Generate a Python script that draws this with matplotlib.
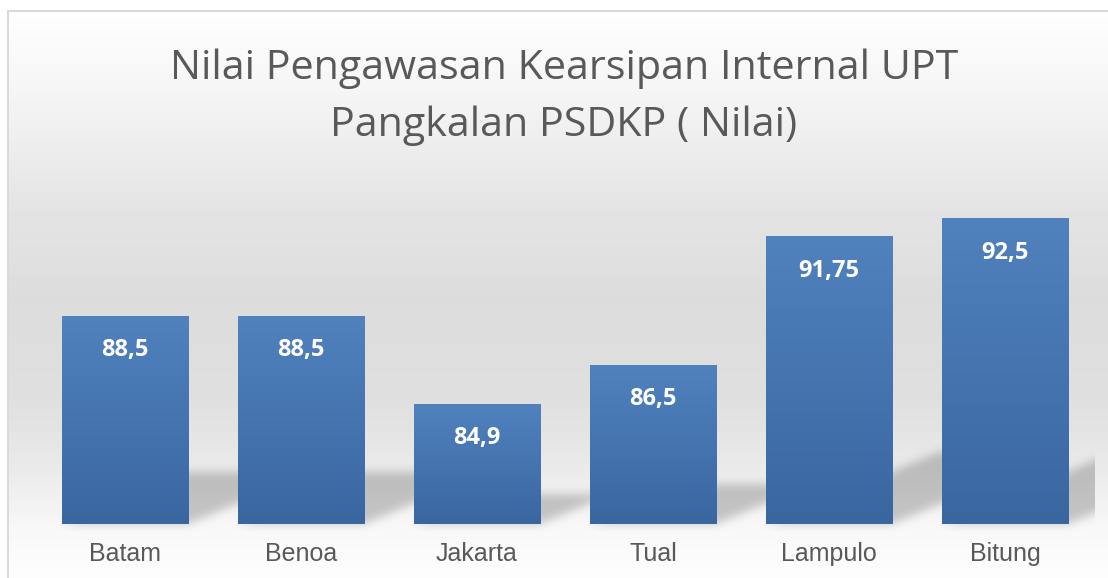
import numpy as np
import matplotlib

matplotlib.use('Agg')
import matplotlib.pyplot as plt
from matplotlib.colors import LinearSegmentedColormap

upt = ['Batam', 'Benoa', 'Jakarta', 'Tual', 'Lampulo', 'Bitung']
nilai = [88.5, 88.5, 84.9, 86.5, 91.75, 92.5]
label_nilai = ['88,5', '88,5', '84,9', '86,5', '91,75', '92,5']
y_min, y_max = 80, 94

W, H = 1108, 578
fig = plt.figure(figsize=(W / 100, H / 100), dpi=100)

# plot area (pixels)
left, right, base, top = 37, 1093, 524, 182
ax = fig.add_axes([left / W, 1 - base / H, (right - left) / W, (base - top) / H])
ax.set_zorder(1)
ax.patch.set_alpha(0)

bars = ax.bar(range(len(upt)), nilai, width=0.716, color='none')

# gradient fill for each bar
bar_cmap = LinearSegmentedColormap.from_list('bar', ['#3a66a0', '#5082be'])
grad = np.linspace(0, 1, 256).reshape(-1, 1)
for r in bars:
    ax.imshow(grad, cmap=bar_cmap, origin='lower', aspect='auto',
              extent=[r.get_x(), r.get_x() + r.get_width(), y_min, r.get_height()],
              zorder=2)
ax.set_xlim(-0.5, len(upt) - 0.5)
ax.set_ylim(y_min, y_max)

for i, r in enumerate(bars):
    ax.annotate(label_nilai[i], (r.get_x() + r.get_width() / 2, r.get_height()),
                xytext=(0, -34), textcoords='offset pixels', ha='center', va='center',
                color='white', fontweight='bold', family='Open Sans', fontsize=17, zorder=3)

for s in ax.spines.values():
    s.set_visible(False)
ax.set_yticks([])
ax.set_xticks(range(len(upt)))
ax.set_xticklabels(upt, fontsize=18, color='#595959', family='Liberation Sans')
ax.tick_params(axis='x', length=0, pad=13)

# background: chart area gradient + bar shadows
yy, xx = np.mgrid[0:H, 0:W] + 0.5
rows = [10, 100, 200, 300, 400, 470, 530, 578]
grays = [254, 244, 229, 220, 223, 234, 248, 253]
img = np.repeat((np.interp(yy[:, 0], rows, grays) / 255)[:, None], W, axis=1)

shade = np.zeros((H, W))
for r in bars:
    (x0, yb), (x1, yt) = ax.transData.transform(
        [(r.get_x(), y_min), (r.get_x() + r.get_width(), r.get_height())])
    yb, yt = H - yb, H - yt
    h = yb - yt
    u = (yb - yy) / 0.25
    inside = (u >= 0) & (u <= h) & (xx >= x0 + 0.6 * u) & (xx <= x1 + 0.6 * u)
    shade[inside] = 1

k = 4
for _ in range(3):
    for axis in (0, 1):
        acc = np.zeros_like(shade)
        for d in range(-k, k + 1):
            acc += np.roll(shade, d, axis=axis)
        shade = acc / (2 * k + 1)
shade[:, right + 2:] = 0
img *= 1 - 0.2 * shade

img[:10, :] = 1
img[:, :7] = 1
img[10:12, 7:] = 217 / 255
img[10:, 7:9] = 217 / 255

bg = fig.add_axes([0, 0, 1, 1])
bg.set_zorder(0)
bg.imshow(img, cmap='gray', vmin=0, vmax=1, extent=[0, W, H, 0], aspect='auto')
bg.set_xlim(0, W)
bg.set_ylim(H, 0)
bg.axis('off')

fig.text(564 / W, 1 - 69 / H, 'Nilai Pengawasan Kearsipan Internal UPT',
         ha='center', va='center', fontsize=29.7, color='#595959', family='Open Sans')
fig.text(564 / W, 1 - 126 / H, 'Pangkalan PSDKP ( Nilai)',
         ha='center', va='center', fontsize=29.7, color='#595959', family='Open Sans')

fig.savefig('out.png', dpi=100)
